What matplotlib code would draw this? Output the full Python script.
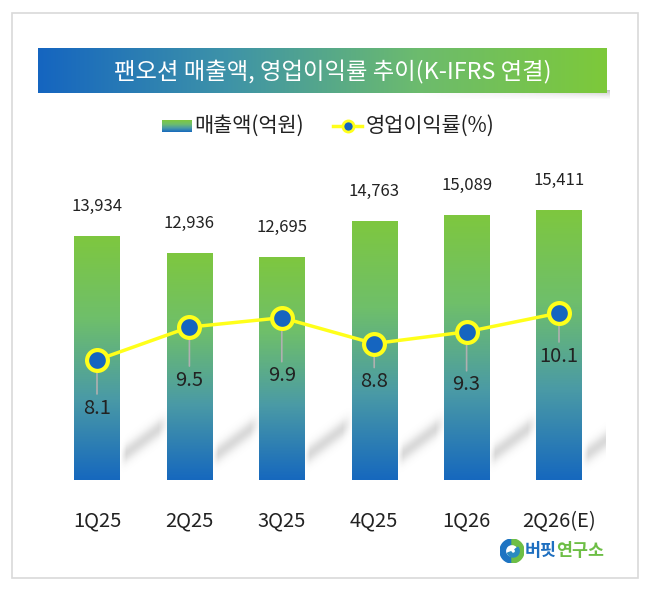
import numpy as np
import matplotlib.pyplot as plt
from matplotlib.colors import LinearSegmentedColormap
from matplotlib.patches import Rectangle, Wedge
from matplotlib.lines import Line2D

plt.rcParams['font.family'] = ['Noto Sans CJK KR', 'DejaVu Sans']

quarters = ['1Q25', '2Q25', '3Q25', '4Q25', '1Q26', '2Q26(E)']
sales = [13934, 12936, 12695, 14763, 15089, 15411]      # 매출액(억원)
margin = [8.1, 9.5, 9.9, 8.8, 9.3, 10.1]                # 영업이익률(%)
margin_label_offset = [48, 53, 58, 38, 53, 43]           # px below marker

blue = '#1668BE'
green = '#7EC73F'
bar_cmap = LinearSegmentedColormap.from_list('bar', [blue, '#4A9AA6', '#6FBF6A', green])
banner_cmap = LinearSegmentedColormap.from_list('ban', ['#1565C0', '#3E93A8', '#6CBB6E', '#7DC93A'])

W, H = 650, 591
fig = plt.figure(figsize=(6.5, 5.91), dpi=100)
fig.patch.set_facecolor('white')

def fx(px):
    return px / W

def fy(py):
    return 1 - py / H

# outer frame
fig.patches.append(Rectangle((fx(12), fy(578)), fx(626), 565 / H, transform=fig.transFigure,
                             fill=False, edgecolor='#D9D9D9', lw=1.2))

# title banner with shadow
shadow = fig.add_axes([fx(420), fy(100), fx(190), 10 / H])
shadow.axis('off')
sh = np.linspace(0, 1, 100)[None, :] * np.linspace(1, 0, 10)[:, None]
shadow.imshow(sh, cmap='Greys', vmin=0, vmax=2.5, aspect='auto', alpha=0.8)

banner = fig.add_axes([fx(38), fy(93), fx(569), 45 / H])
banner.axis('off')
banner.imshow(np.linspace(0, 1, 256)[None, :], cmap=banner_cmap, aspect='auto', extent=(0, 1, 0, 1))
banner.set_xlim(0, 1)
banner.set_ylim(0, 1)
banner.text(0.518, 0.45, '팬오션 매출액, 영업이익률 추이(K-IFRS 연결)', color='white',
            fontsize=16.8, ha='center', va='center')

# main axes
bottom_px, top_px = 480, 150
ax = fig.add_axes([fx(50.8), fy(bottom_px), fx(554.4), (bottom_px - top_px) / H])
ax.axis('off')
x = np.arange(len(quarters))
px_per_unit = 0.01751
ymax = (bottom_px - top_px) / px_per_unit
ax.set_xlim(-0.5, len(quarters) - 0.5)
ax.set_ylim(0, ymax)

# blurred diagonal shadow image (in pixel space), reused for every bar
sw, shh = 48, 80
gx, gy = np.meshgrid(np.arange(sw), np.arange(shh))
centre = 22 + gx * (36 / sw)
alpha = 0.32 * np.exp(-((gy - centre) / 9.0) ** 2) * np.clip(gx / 6, 0, 1) * np.clip((sw - gx) / 10, 0, 1)
shadow_img = np.zeros((shh, sw, 4))
shadow_img[..., :3] = 0.55
shadow_img[..., 3] = alpha

grad = np.linspace(0, 1, 256)[:, None]
for xi, v in zip(x, sales):
    ax.imshow(shadow_img, origin='lower', aspect='auto', interpolation='bilinear',
              extent=(xi + 0.245, xi + 0.245 + sw / 92.4, 0, shh / px_per_unit), zorder=1)
    ax.imshow(grad, cmap=bar_cmap, origin='lower', aspect='auto',
              extent=(xi - 0.245, xi + 0.245, 0, v), zorder=2)
    ax.annotate(f'{v:,}', (xi, v), xytext=(0, 30), textcoords='offset pixels',
                ha='center', va='center', fontsize=12, color='#222222', zorder=5)
ax.set_xlim(-0.5, len(quarters) - 0.5)
ax.set_ylim(0, ymax)

for xi, q in zip(x, quarters):
    ax.text(xi, -41 * ymax / (bottom_px - top_px), q, ha='center', va='center',
            fontsize=14.5, color='#222222', clip_on=False)

# margin line on twin axis
ax2 = ax.twinx()
ax2.axis('off')
ppu = 23.5
lo = 8.1 - (bottom_px - 360) / ppu
hi = 8.1 + (360 - top_px) / ppu
ax2.set_ylim(lo, hi)
ax2.set_xlim(-0.5, len(quarters) - 0.5)
ax2.plot(x, margin, color='#FFFF1A', lw=2.5, zorder=3)
for xi, m, off in zip(x, margin, margin_label_offset):
    ax2.annotate('', (xi, m), xytext=(0, -(off - 14)), textcoords='offset pixels',
                 arrowprops=dict(arrowstyle='-', color='#B0B0B0', lw=1.2, shrinkA=0, shrinkB=0),
                 zorder=2)
    ax2.annotate(f'{m}', (xi, m), xytext=(0, -off), textcoords='offset pixels',
                 ha='center', va='center', fontsize=14.5, color='#222222', zorder=5)
ax2.plot(x, margin, 'o', ms=15, mfc='#1565C0', mec='#FFFF1A', mew=3, zorder=6)

# legend
leg = fig.add_axes([fx(162), fy(132), fx(30), 12 / H])
leg.axis('off')
leg.imshow(grad, cmap=bar_cmap, origin='lower', aspect='auto')
fig.text(fx(194), fy(126), '매출액(억원)', fontsize=15, va='center', ha='left', color='#222222')
fig.lines.append(Line2D([fx(333), fx(362)], [fy(126), fy(126)], transform=fig.transFigure,
                        color='#FFFF1A', lw=2.5))
fig.lines.append(Line2D([fx(347.5)], [fy(126)], transform=fig.transFigure, marker='o', ms=8,
                        mfc='#1565C0', mec='#FFFF1A', mew=2))
fig.text(fx(366), fy(126), '영업이익률(%)', fontsize=15, va='center', ha='left', color='#222222')

# logo
logo = fig.add_axes([fx(500), fy(563), fx(24), 24 / H])
logo.set_xlim(-1, 1)
logo.set_ylim(-1, 1)
logo.set_aspect('equal')
logo.axis('off')
logo.add_patch(Wedge((0, 0), 1, 90, 270, width=0.45, color='#1E74C2'))
logo.add_patch(Wedge((0, 0), 1, 270, 450, width=0.45, color='#6DBE45'))
logo.add_patch(Wedge((0.1, 0), 0.5, 200, 400, width=0.3, color='#2A8AC0'))
fig.text(fx(525), fy(551), '버핏', fontsize=12.5, fontweight='bold', color='#1E6FC0', va='center', ha='left')
fig.text(fx(556), fy(551), '연구소', fontsize=12.5, fontweight='bold', color='#6DBE45', va='center', ha='left')

fig.savefig('out.png', dpi=100)
